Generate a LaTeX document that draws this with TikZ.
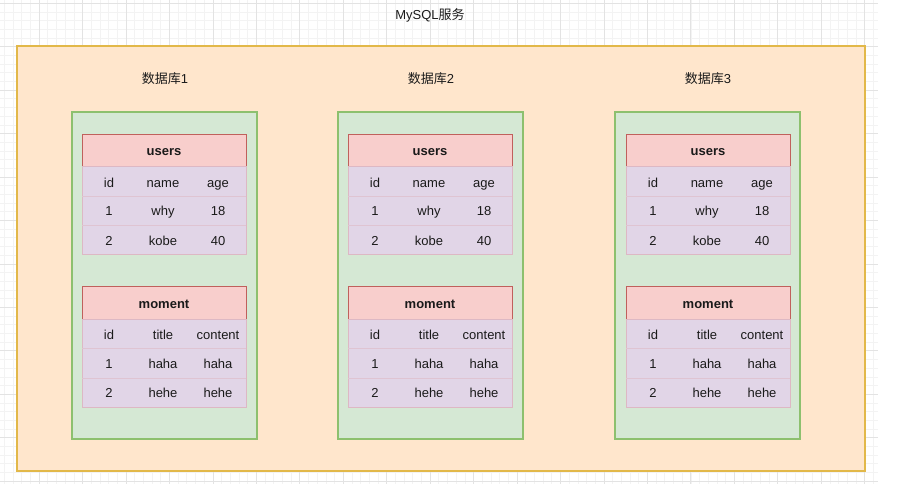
\documentclass[tikz,border=0pt]{standalone}
\usepackage{fontspec}
\setmainfont{Liberation Sans}
\newfontfamily\cjk{Noto Sans CJK SC}
\usetikzlibrary{positioning}

\definecolor{gridminor}{HTML}{F3F3F3}
\definecolor{gridmajor}{HTML}{E3E3E3}
\definecolor{svcfill}{HTML}{FFE6CC}
\definecolor{svcline}{HTML}{E2B849}
\definecolor{dbfill}{HTML}{D5E8D4}
\definecolor{dbline}{HTML}{8DC06E}
\definecolor{headfill}{HTML}{F8CECC}
\definecolor{headline}{HTML}{C0605C}
\definecolor{rowfill}{HTML}{E1D5E7}
\definecolor{rowline}{HTML}{DDB8C4}
\definecolor{txt}{HTML}{1A1A1A}

\tikzset{
  service/.style={rectangle, draw=svcline, fill=svcfill, line width=1.3pt, inner sep=0pt, minimum width=848pt, minimum height=425pt},
  dbbox/.style={rectangle, draw=dbline, fill=dbfill, line width=1.1pt, inner sep=0pt, minimum width=185pt, minimum height=327pt},
  tablehead/.style={rectangle, draw=headline, fill=headfill, line width=0.8pt, inner sep=0pt, minimum width=164pt, minimum height=33pt, text height=10.5pt, text depth=0pt, font=\fontsize{13}{15}\selectfont\bfseries},
  tablebody/.style={rectangle, draw=rowline, fill=rowfill, line width=0.8pt, inner sep=0pt, minimum width=164pt, minimum height=88pt},
  rowsep/.style={draw=rowline!60!rowfill, line width=0.5pt},
  cell/.style={inner sep=0pt, text=txt, text height=9.5pt, text depth=3pt, yshift=-1pt},
  label/.style={inner sep=0pt, text=txt, text height=9.5pt, text depth=3pt},
}

\begin{document}
\begin{tikzpicture}[x=1pt, y=-1pt, font=\fontsize{13}{15}\selectfont, text=txt]
  \useasboundingbox (0,0) rectangle (901,484);
  % grid
  \begin{scope}
    \clip (0,0) rectangle (878,484);
    \foreach \k in {0,...,102} {
      \pgfmathsetmacro{\gx}{-4.45+\k*8.69}
      \pgfmathsetmacro{\gy}{3.1+(\k-1)*8.69}
      \draw[gridminor, line width=0.5pt] (\gx,0) -- (\gx,484);
      \draw[gridminor, line width=0.5pt] (0,\gy) -- (878,\gy);
    }
    \foreach \k in {0,...,21} {
      \pgfmathsetmacro{\gx}{-4.45+\k*43.45}
      \pgfmathsetmacro{\gy}{3.1+(\k-1)*43.45}
      \draw[gridmajor, line width=0.6pt] (\gx,0) -- (\gx,484);
      \draw[gridmajor, line width=0.6pt] (0,\gy) -- (878,\gy);
    }
  \end{scope}

  \node[label] (title) at (430,16.5) {MySQL{\cjk 服务}};
  \node[service] (mysql) at (441,258.5) {};

  \foreach \i/\gx/\tx in {1/72/82, 2/338/348, 3/615/626} {
    \node[dbbox] (db\i) at (\gx+92.5,275.5) {};
    \node[label] (dblabel\i) at (\gx+93,80.5) {{\cjk 数据库}\i};

    % users
    \node[tablehead] (users\i) at (\tx+82,150.5) {users};
    \node[tablebody] (usersrows\i) at (\tx+82,210.5) {};
    \draw[rowsep] (\tx,196) -- (\tx+164,196);
    \draw[rowsep] (\tx,225) -- (\tx+164,225);
    \foreach \r/\a/\b/\c/\y in {0/id/name/age/183, 1/1/why/18/211.5, 2/2/kobe/40/241} {
      \node[cell] (u\i r\r a) at (\tx+27,\y) {\a};
      \node[cell] (u\i r\r b) at (\tx+81,\y) {\b};
      \node[cell] (u\i r\r c) at (\tx+136,\y) {\c};
    }

    % moment
    \node[tablehead] (moment\i) at (\tx+82,303) {moment};
    \node[tablebody] (momentrows\i) at (\tx+82,363) {};
    \draw[rowsep] (\tx,348) -- (\tx+164,348);
    \draw[rowsep] (\tx,378) -- (\tx+164,378);
    \foreach \r/\a/\b/\c/\y in {0/id/title/content/335.5, 1/1/haha/haha/364, 2/2/hehe/hehe/393.5} {
      \node[cell] (m\i r\r a) at (\tx+27,\y) {\a};
      \node[cell] (m\i r\r b) at (\tx+81,\y) {\b};
      \node[cell] (m\i r\r c) at (\tx+136,\y) {\c};
    }
  }
\end{tikzpicture}
\end{document}
